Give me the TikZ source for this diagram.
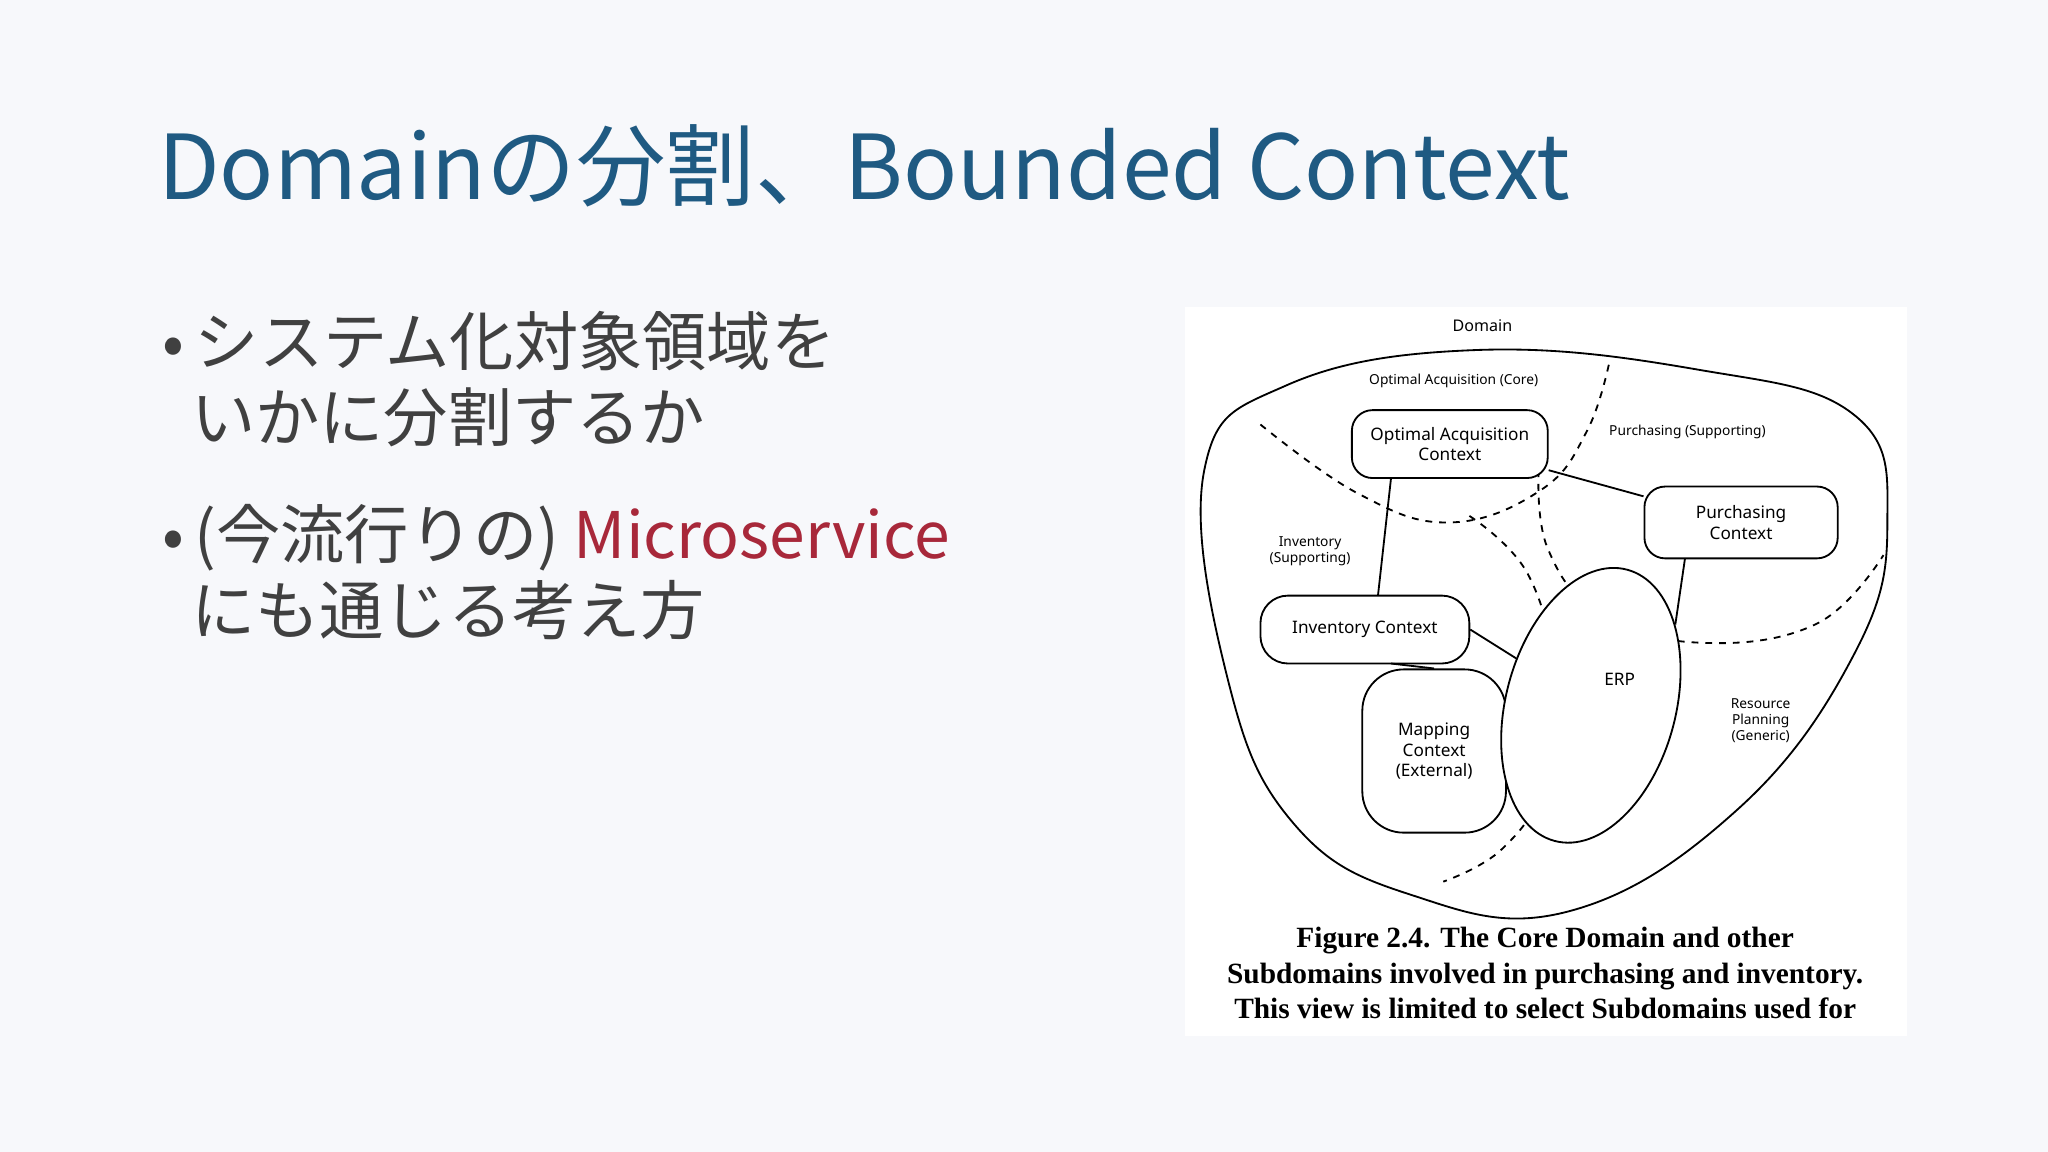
\documentclass[tikz,border=0pt]{standalone}
\usepackage{fontspec}
\setmainfont{Noto Sans CJK JP}
\newfontfamily\serifb{Liberation Serif}
\newfontfamily\hand{Noto Sans}
\usetikzlibrary{shapes.geometric}
\definecolor{titleblue}{HTML}{1F5A82}
\definecolor{bodygray}{HTML}{404040}
\definecolor{accred}{HTML}{A8283A}
\definecolor{bg}{HTML}{F7F8FB}
\begin{document}
\begin{tikzpicture}[x=0.02cm,y=-0.02cm,
  ctx/.style={draw,thick,rounded corners=9pt,fill=white,align=center,inner sep=1pt,font=\hand\fontsize{7.5}{9}\selectfont},
  lbl/.style={align=center,font=\hand\fontsize{6}{7}\selectfont},
  dsh/.style={thick,dashed},
  link/.style={thick}]
\fill[bg] (0,0) rectangle (1568,882);
\useasboundingbox (0,0) rectangle (1568,882);
\node[anchor=west,text=titleblue,font=\fontsize{39}{46}\selectfont] (title) at (115,127) {Domainの分割、Bounded Context};
\node[anchor=north west,text=bodygray,align=left,font=\fontsize{28}{33}\selectfont] (b1) at (118,232) {•\,システム化対象領域を\\\hspace*{0.45em}いかに分割するか};
\node[anchor=north west,text=bodygray,align=left,font=\fontsize{28}{33}\selectfont] (b2) at (118,380) {•\,(今流行りの) \textcolor{accred}{Microservice}\\\hspace*{0.45em}にも通じる考え方};
\fill[white] (907,235) rectangle (1460,793);
\draw[thick] plot[smooth cycle,tension=0.7] coordinates{(922,360)(985,295)(1130,268)(1300,283)(1420,318)(1445,400)(1420,500)(1330,620)(1200,698)(1080,685)(990,630)(940,520)};
\draw[dsh] plot[smooth,tension=0.7] coordinates{(965,325)(1040,378)(1110,400)(1180,375)(1215,330)(1232,278)};
\draw[dsh] plot[smooth,tension=0.7] coordinates{(1178,360)(1185,420)(1225,470)(1300,492)(1390,478)(1442,425)};
\draw[dsh] plot[smooth,tension=0.7] coordinates{(1125,395)(1170,440)(1190,520)(1182,600)(1150,650)(1105,675)};
\node[ctx,minimum width=3cm,minimum height=1.04cm] (oac) at (1110,340) {Optimal Acquisition\\Context};
\node[ctx,minimum width=2.96cm,minimum height=1.1cm] (pur) at (1333,400) {Purchasing\\Context};
\node[ctx,minimum width=3.2cm,minimum height=1.04cm,rounded corners=12pt] (inv) at (1045,482) {Inventory Context};
\node[ctx,minimum width=2.2cm,minimum height=2.5cm,rounded corners=18pt] (map) at (1098,575) {Mapping\\Context\\(External)};
\node[draw,thick,ellipse,minimum width=2.6cm,minimum height=4.3cm,rotate=-15,fill=white] (erp) at (1218,540) {};
\node[lbl,font=\hand\fontsize{7.5}{9}\selectfont] (erpl) at (1240,520) {ERP};
\draw[link] (1065,366) -- (1055,456);
\draw[link] (oac.east |- 0,360) -- (pur.west |- 0,380);
\draw[link] (1290,428) -- (erp.north east);
\draw[link] (inv.east) -- (erp);
\draw[link] (1065,508) -- (map.north);
\node[lbl,font=\hand\fontsize{7}{8}\selectfont] (dom) at (1135,249) {Domain};
\node[lbl] (l1) at (1113,292) {Optimal Acquisition (Core)};
\node[lbl] (l2) at (1292,331) {Purchasing (Supporting)};
\node[lbl] (l3) at (1003,422) {Inventory\\(Supporting)};
\node[lbl] (l4) at (1348,552) {Resource\\Planning\\(Generic)};
\node[font=\serifb\bfseries\fontsize{12.8}{15.4}\selectfont,align=center] (cap) at (1183,745) {Figure 2.4. The Core Domain and other\\Subdomains involved in purchasing and inventory.\\This view is limited to select Subdomains used for};
\end{tikzpicture}
\end{document}
